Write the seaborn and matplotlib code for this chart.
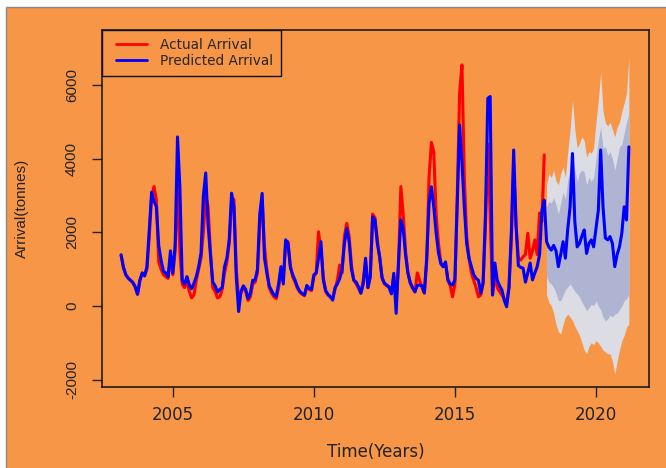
import numpy as np
import pandas as pd
import matplotlib
matplotlib.use("Agg")
import matplotlib.pyplot as plt
from matplotlib.patches import Rectangle
from matplotlib.legend_handler import HandlerLine2D
import seaborn as sns

# Monthly series starting March 2003
start_year = 2003
start_month = 3

actual = [
    1390, 1050, 850, 760, 700, 640, 520, 320, 700, 900, 820, 1000,
    1900, 3000, 3250, 2900, 1200, 1000, 850, 800, 750, 1300, 850, 1500,
    3300, 1500, 600, 500, 700, 400, 220, 300, 700, 1000, 1300, 2000,
    3000, 2700, 1500, 500, 400, 220, 250, 450, 900, 1200, 1700, 2800,
    2900, 1000, 200, 350, 500, 400, 150, 250, 600, 650, 900, 2200,
    2900, 1600, 1000, 500, 350, 250, 200, 500, 900, 700, 1700, 1750,
    1100, 800, 650, 480, 380, 320, 280, 500, 450, 420, 800, 900,
    2020, 1500, 800, 400, 300, 250, 200, 450, 700, 1115, 900, 1900,
    2250, 1900, 1100, 700, 600, 480, 350, 700, 1200, 500, 800, 2500,
    2400, 1800, 1300, 800, 600, 550, 500, 350, 800, 100, 1100, 3250,
    2500, 1500, 900, 620, 480, 380, 900, 700, 500, 350, 1200, 3500,
    4450, 4200, 2500, 1700, 1200, 1070, 1150, 700, 550, 250, 600, 3000,
    5800, 6560, 3500, 1900, 1300, 900, 700, 500, 250, 300, 600, 2200,
    4400, 2500, 300, 900, 500, 400, 300, 200, 100, 500, 1800, 3800,
    2200, 1300, 1250, 1340, 1400, 1980, 1300, 1500, 1800, 1400, 2530, 2300,
    4110,
]

fitted = [
    1390, 1050, 850, 760, 700, 640, 520, 320, 700, 900, 820, 1070,
    2100, 3100, 2850, 2700, 1650, 1250, 950, 900, 800, 1500, 900, 1650,
    4600, 3250, 700, 600, 800, 580, 470, 620, 800, 1070, 1440, 3000,
    3620, 2200, 1400, 650, 550, 380, 450, 500, 1070, 1300, 1800, 3070,
    2700, 800, -150, 400, 550, 450, 200, 350, 700, 700, 1000, 2500,
    3065, 1300, 900, 550, 420, 300, 260, 600, 1070, 600, 1800, 1710,
    1050, 850, 700, 520, 400, 340, 300, 560, 480, 450, 850, 900,
    1300, 1750, 720, 420, 320, 250, 160, 500, 600, 750, 1000, 1700,
    2110, 1750, 1000, 700, 650, 520, 350, 600, 1300, 500, 800, 2430,
    2340, 1700, 1340, 760, 620, 570, 520, 330, 890, -200, 1200, 2340,
    2100, 1400, 900, 640, 500, 390, 560, 570, 550, 360, 1300, 2800,
    3245, 2700, 2000, 1450, 1150, 1070, 1200, 720, 600, 570, 720, 2800,
    4925, 3900, 2700, 1700, 1300, 1070, 850, 750, 700, 350, 650, 2500,
    5650, 5700, 300, 1170, 700, 550, 435, 150, -20, 500, 2000, 4245,
    2200, 1100, 1050, 1030, 650, 900, 1170, 710, 900, 1070, 1400, 2600,
    2880,
]

forecast = [
    1750, 1600, 1520, 1650, 1500, 1070, 1400, 1750, 1300, 2100, 2700, 4150,
    2300, 1610, 1700, 1900, 2070, 1430, 1700, 1800, 1610, 2100, 2600, 4245,
    2700, 1850, 1800, 1890, 1700, 1070, 1400, 1610, 1980, 2700, 2340, 4330,
]

hi95 = [
    3300, 3600, 3500, 3700, 3400, 3300, 3600, 3780, 3500, 4200, 4800, 5600,
    4800, 4300, 4430, 4600, 4500, 4050, 4200, 4160, 4300, 5000, 5600, 6340,
    5300, 4980, 4900, 5000, 4800, 4600, 4870, 5000, 5300, 5520, 5800, 6780,
]
hi80 = [
    2700, 2850, 2800, 2950, 2750, 2500, 2800, 3100, 2900, 3430, 3700, 4160,
    3700, 3400, 3620, 3700, 3650, 3300, 3500, 3400, 3500, 4000, 4500, 4870,
    4300, 4330, 4100, 4200, 4000, 3700, 4000, 4330, 4400, 4700, 5000, 5250,
]
lo80 = [
    800, 650, 600, 500, 350, 150, 145, 300, 450, 520, 600, 500,
    400, 330, 250, 100, 0, -130, -50, 50, 0, 145, 0, -100,
    -300, -400, -350, -250, -300, -220, -200, -100, 0, 145, 200, 300,
]
lo95 = [
    300, 100, 0, -200, -500, -700, -760, -500, -300, -220, -300, -400,
    -550, -670, -800, -1000, -1200, -1300, -1100, -1000, -1050, -940, -1000, -1100,
    -1200, -1250, -1300, -1300, -1500, -1850, -1500, -1200, -940, -800, -570, -500,
]

x_ticks = [2005, 2010, 2015, 2020]
y_ticks = [-2000, 0, 2000, 4000, 6000]

ORANGE = "#F79646"

# decimal-year time axis
t0 = start_year + (start_month - 1) / 12.0
t_hist = t0 + np.arange(len(actual)) / 12.0
t_fc = t0 + (len(fitted) + np.arange(len(forecast))) / 12.0

df = pd.concat([
    pd.DataFrame({"time": t_hist, "value": actual, "series": "Actual Arrival"}),
    pd.DataFrame({"time": np.concatenate([t_hist, t_fc]),
                  "value": list(fitted) + list(forecast),
                  "series": "Predicted Arrival"}),
], ignore_index=True)

sns.set_style("ticks")
plt.rcParams["font.family"] = ["DejaVu Sans"]

fig = plt.figure(figsize=(6.66, 4.68), dpi=100, facecolor="white")
# orange panel with a thin grey border on its top and left edges
fig.patches.append(Rectangle((5.5 / 666, -0.01), 1.02 - 5.5 / 666, 0.01 + (468 - 6.5) / 468,
                             transform=fig.transFigure, facecolor=ORANGE,
                             edgecolor="#8a8a8a", linewidth=1.0, zorder=-10))

ax = fig.add_axes([102 / 666, 1 - 387 / 468, (649 - 102) / 666, (387 - 30) / 468])
ax.set_facecolor(ORANGE)

# forecast intervals
ax.fill_between(t_fc, lo95, hi95, color="#DCDCE4", linewidth=0, zorder=1)
ax.fill_between(t_fc, lo80, hi80, color="#AFB4D2", linewidth=0, zorder=1.5)

sns.lineplot(data=df, x="time", y="value", hue="series",
             hue_order=["Actual Arrival", "Predicted Arrival"],
             palette={"Actual Arrival": "#FF0000", "Predicted Arrival": "#0000FF"},
             linewidth=2.2, errorbar=None, sort=False, ax=ax, zorder=2)

ax.set_xlim(2002.49, 2021.88)
ax.set_ylim(-2204, 7510)
ax.set_xticks(x_ticks)
ax.set_xticklabels([str(v) for v in x_ticks], fontsize=12, color="#222222")
ax.set_yticks(y_ticks)
ax.set_yticklabels([str(v) for v in y_ticks], rotation=90, va="center",
                   family=["Liberation Sans"], fontsize=11, color="#222222")
ax.tick_params(axis="both", direction="out", length=7.5, width=1.0, color="#222222")
ax.tick_params(axis="x", pad=6.5)
ax.tick_params(axis="y", pad=9)
for sp in ax.spines.values():
    sp.set_visible(True)
    sp.set_color("#111111")
    sp.set_linewidth(1.1)
ax.set_xlabel("")
ax.set_ylabel("")

fig.text(376 / 666, 1 - 452 / 468, "Time(Years)", ha="center", va="center",
         fontsize=12, color="#222222")
fig.text(22 / 666, 1 - 208 / 468, "Arrival(tonnes)", ha="center", va="center",
         rotation=90, family=["Liberation Sans"], fontsize=11, color="#222222")

handles, labels = ax.get_legend_handles_labels()
leg = ax.legend(handles, labels, loc="upper left", bbox_to_anchor=(0, 1),
                borderaxespad=0, frameon=True, fancybox=False,
                edgecolor="#111111", facecolor=ORANGE, framealpha=1,
                prop={"size": 9.8}, handlelength=2.69, handletextpad=0.96,
                borderpad=0.6, labelspacing=0.1,
                handler_map={h: HandlerLine2D(xpad=0.41) for h in handles})
leg.get_frame().set_linewidth(1.0)
for line in leg.get_lines():
    line.set_linewidth(2.0)

fig.savefig("out.png", dpi=100, facecolor=fig.get_facecolor())
